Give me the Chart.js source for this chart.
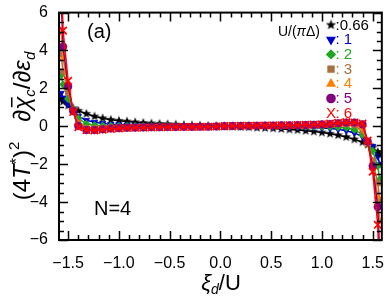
<!DOCTYPE html>
<html><head><meta charset="utf-8">
<script src="https://cdn.jsdelivr.net/npm/chart.js@4"></script>
<style>html,body{margin:0;padding:0;background:#fff;}#wrap{width:390px;height:297px;}</style>
</head><body><div id="wrap"><canvas id="c" width="390" height="297"></canvas></div>
<script>
// ---- data ----
const xi = [-1.57,-1.55,-1.50,-1.45,-1.40,-1.32,-1.24,-1.16,-1.08,-1.00,-0.92,-0.84,-0.76,-0.68,-0.60,-0.52,-0.44,-0.36,-0.28,-0.20,-0.12,-0.04,
            0.04,0.12,0.20,0.28,0.36,0.44,0.52,0.60,0.68,0.76,0.84,0.92,1.00,1.08,1.16,1.24,1.32,1.40,1.45,1.50,1.55,1.57];
const u066 = [1.45,1.3,1.1,0.95,0.82,0.66,0.52,0.42,0.34,0.29,0.25,0.21,0.18,0.15,0.13,0.11,0.09,0.07,0.05,0.04,0.02,0.01,
              -0.01,-0.02,-0.04,-0.05,-0.07,-0.09,-0.11,-0.14,-0.17,-0.2,-0.24,-0.28,-0.33,-0.39,-0.47,-0.57,-0.69,-0.84,-0.97,-1.12,-1.35,-1.5];
const u1 = [1.75,1.5,1.15,0.8,0.52,0.32,0.21,0.15,0.11,0.09,0.07,0.06,0.05,0.04,0.03,0.03,0.02,0.02,0.01,0.01,0.0,0.0,
            0.0,0.0,-0.01,-0.01,-0.02,-0.02,-0.03,-0.03,-0.04,-0.05,-0.06,-0.07,-0.09,-0.12,-0.16,-0.23,-0.35,-0.55,-0.78,-1.05,-1.6,-2.0];
const u2 = [2.7,2.2,1.45,0.9,0.42,0.13,0.05,0.03,0.02,0.01,0.01,0.01,0.0,0.0,0.0,0.0,0.0,0.0,0.0,0.0,0.0,0.0,
            0.0,0.0,0.0,0.0,0.0,0.0,0.0,0.0,0.0,0.0,-0.01,-0.01,-0.02,-0.03,-0.05,-0.08,-0.18,-0.45,-0.85,-1.3,-2.1,-2.8];
const u3 = [3.8,2.9,1.75,0.85,0.2,-0.08,-0.1,-0.08,-0.06,-0.05,-0.04,-0.04,-0.03,-0.03,-0.02,-0.02,-0.02,-0.01,-0.01,-0.01,0.0,0.0,
            0.0,0.0,0.01,0.01,0.01,0.02,0.02,0.03,0.03,0.04,0.04,0.05,0.06,0.08,0.1,0.1,0.05,-0.25,-0.9,-1.8,-3.0,-3.9];
const u4 = [5.0,3.6,2.0,0.85,0.1,-0.15,-0.15,-0.12,-0.1,-0.08,-0.07,-0.06,-0.05,-0.04,-0.04,-0.03,-0.03,-0.02,-0.02,-0.01,-0.01,0.0,
            0.0,0.01,0.01,0.02,0.02,0.03,0.03,0.04,0.04,0.05,0.06,0.07,0.08,0.1,0.12,0.15,0.15,-0.1,-0.9,-2.1,-3.7,-5.0];
const u5 = [6.8,4.2,2.1,0.8,0.02,-0.2,-0.2,-0.16,-0.12,-0.1,-0.08,-0.07,-0.06,-0.05,-0.05,-0.04,-0.04,-0.03,-0.03,-0.02,-0.02,-0.01,
            0.01,0.02,0.02,0.03,0.03,0.04,0.04,0.05,0.05,0.06,0.07,0.08,0.1,0.12,0.16,0.2,0.2,0.1,-0.8,-2.1,-4.25,-6.8];
const u6 = [8.5,5.05,2.4,0.75,-0.05,-0.2,-0.22,-0.18,-0.14,-0.11,-0.09,-0.08,-0.07,-0.06,-0.05,-0.05,-0.04,-0.04,-0.03,-0.03,-0.02,-0.01,
            0.01,0.02,0.03,0.03,0.04,0.04,0.05,0.05,0.06,0.07,0.08,0.09,0.11,0.14,0.18,0.22,0.2,0.15,-0.75,-2.4,-5.2,-8.5];
const seriesU = ['0.66','1','2','3','4','5','6'];
const seriesLabels = [':0.66',': 1',': 2',': 3',': 4',': 5',': 6'];
const xTicks = [-1.5,-1.0,-0.5,0.0,0.5,1.0,1.5];
const yTicks = [-6,-4,-2,0,2,4,6];
const panelLabel = '(a)';
const noteLabel = 'N=4';

// ---- styles ----
const FONT = '"Liberation Sans", Arial, Helvetica, sans-serif';
function makeStar(color, r){
  const s = Math.ceil(r*2+2), c = document.createElement('canvas');
  c.width = s; c.height = s;
  const g = c.getContext('2d');
  g.fillStyle = color; g.beginPath();
  for (let i=0;i<10;i++){ const rr = i%2 ? r*0.42 : r; const a = -Math.PI/2 + i*Math.PI/5; g.lineTo(s/2+rr*Math.cos(a), s/2+rr*Math.sin(a)); }
  g.closePath(); g.fill();
  return c;
}
const starImg = makeStar('#000', 5);
const starImgL = makeStar('#000', 5.4);
const styles = [
  {color:'#000000', ps: starImg, rot:0},
  {color:'#0000cc', ps:'triangle', rot:180},
  {color:'#1fa81f', ps:'rectRot', rot:0},
  {color:'#a8703c', ps:'rect', rot:0},
  {color:'#ff8000', ps:'triangle', rot:0},
  {color:'#800080', ps:'circle', rot:0},
  {color:'#ff0000', ps:'crossRot', rot:0}
];
const allSeries = [u066,u1,u2,u3,u4,u5,u6];

const datasets = allSeries.map((arr,i)=>({
  label: seriesLabels[i],
  data: arr.map((v,k)=>({x:xi[k], y:v})),
  borderColor: styles[i].color,
  backgroundColor: styles[i].color,
  pointBackgroundColor: styles[i].color,
  pointBorderColor: styles[i].color,
  borderWidth: 1.5,
  pointStyle: styles[i].ps,
  pointRotation: styles[i].rot,
  pointRadius: styles[i].ps==='crossRot' ? 5.2 : (styles[i].ps==='circle' ? 3.8 : 3.7),
  pointBorderWidth: styles[i].ps==='crossRot' ? 1.7 : 0.8,
  tension: 0,
  order: 6-i
}));

function rich(ctx, parts, x, y, align){
  let w = 0;
  parts.forEach(p=>{ ctx.font = p.f; p.w = ctx.measureText(p.t).width; w += p.w + (p.sp||0); });
  let cx = align==='center' ? x - w/2 : (align==='right' ? x - w : x);
  parts.forEach(p=>{
    ctx.font = p.f;
    ctx.fillText(p.t, cx, y + (p.dy||0));
    if (p.over) ctx.fillRect(cx + p.w*0.2, y - p.over, p.w*0.75, 1.5);
    cx += p.w + (p.sp||0);
  });
}

const deco = {
  id:'deco',
  afterDatasetsDraw(chart){
    const {ctx, chartArea:a, scales:{x, y}} = chart;
    ctx.save();
    ctx.strokeStyle = '#000'; ctx.lineWidth = 1.5;
    ctx.beginPath();
    for (let k=-15;k<=15;k++){
      const v = k/10, major = xTicks.some(t=>Math.abs(t-v)<1e-6), len = major?9:5;
      const px = Math.round(x.getPixelForValue(v))+0.5;
      ctx.moveTo(px, a.bottom); ctx.lineTo(px, a.bottom-len);
      ctx.moveTo(px, a.top); ctx.lineTo(px, a.top+len);
    }
    for (let k=-12;k<=12;k++){
      const v = k/2, major = yTicks.some(t=>Math.abs(t-v)<1e-6), len = major?9:5;
      const py = Math.round(y.getPixelForValue(v))+0.5;
      ctx.moveTo(a.left, py); ctx.lineTo(a.left+len, py);
      ctx.moveTo(a.right, py); ctx.lineTo(a.right-len, py);
    }
    ctx.stroke();
    ctx.lineWidth = 2;
    ctx.strokeRect(a.left, a.top, a.right-a.left, a.bottom-a.top);

    ctx.fillStyle = '#000';
    ctx.textBaseline = 'alphabetic';
    ctx.font = '20px ' + FONT; ctx.textAlign = 'left';
    ctx.fillText(panelLabel, 87, 38);
    ctx.fillText(noteLabel, 94, 215);

    // legend
    ctx.textAlign = 'left';
    rich(ctx, [{t:'U/(', f:'14px '+FONT},{t:'π', f:'italic 14px '+FONT},{t:'Δ)', f:'14px '+FONT}], 320, 36, 'right');
    chart.data.datasets.forEach((ds,i)=>{
      const cy = 25 + i*14.7;
      const st = styles[i];
      ctx.fillStyle = st.color; ctx.strokeStyle = st.color;
      if (st.ps === 'crossRot') {
        ctx.font = '15px ' + FONT; ctx.textBaseline='middle'; ctx.textAlign='center';
        ctx.fillText('X', 331, cy+0.5);
      } else {
        Chart.helpers.drawPoint(ctx, {pointStyle: st.ps===starImg?starImgL:st.ps, rotation: st.rot, radius: 3.8, borderWidth: 0.8}, 331, cy);
      }
      ctx.font = '15px ' + FONT; ctx.textBaseline='middle'; ctx.textAlign='left';
      ctx.fillText(ds.label, 335.5, cy+0.5);
    });

    // axis titles
    ctx.fillStyle = '#000'; ctx.textBaseline = 'alphabetic'; ctx.textAlign='left';
    const F = FONT;
    rich(ctx, [{t:'ξ', f:'italic 22px '+F},{t:'d', f:'italic 14px '+F, dy:4},{t:'/U', f:'22px '+F}], 221, 290, 'center');
    ctx.translate(30, 126); ctx.rotate(-Math.PI/2);
    rich(ctx, [
      {t:'(4', f:'24px '+F},{t:'T', f:'italic 24px '+F},{t:'*', f:'16px '+F, dy:-8},{t:')', f:'24px '+F},
      {t:'2', f:'15px '+F, dy:-11, sp:20},
      {t:'∂', f:'24px '+F},{t:'χ', f:'italic 24px '+F, over:19},{t:'c', f:'italic 15px '+F, dy:5},
      {t:'/∂', f:'24px '+F},{t:'ε', f:'italic 24px '+F},{t:'d', f:'italic 15px '+F, dy:5}
    ], 0, 0, 'center');
    ctx.restore();
  }
};

const minus = s => s.replace('-', '\u2212');
new Chart(document.getElementById('c'), {
  type:'line',
  data:{datasets},
  options:{
    responsive:false, animation:false, devicePixelRatio:1,
    layout:{padding:{left:0, right:3.5, top:12, bottom:0}},
    plugins:{legend:{display:false}, tooltip:{enabled:false}},
    scales:{
      x:{type:'linear', min:-1.59, max:1.59,
        afterBuildTicks: s=>{ s.ticks = xTicks.map(v=>({value:v})); },
        afterFit: s=>{ s.height = 57; },
        grid:{display:false}, border:{display:false},
        ticks:{color:'#000', font:{family:FONT, size:16}, padding:6, maxRotation:0, autoSkip:false,
          callback: v=>minus(Number(v).toFixed(1))}},
      y:{type:'linear', min:-6, max:6,
        afterBuildTicks: s=>{ s.ticks = yTicks.map(v=>({value:v})); },
        afterFit: s=>{ s.width = 59; },
        grid:{display:false}, border:{display:false},
        ticks:{color:'#000', font:{family:FONT, size:16}, padding:3, autoSkip:false,
          callback: v=>minus(String(v))}}
    }
  },
  plugins:[deco]
});
</script></body></html>
